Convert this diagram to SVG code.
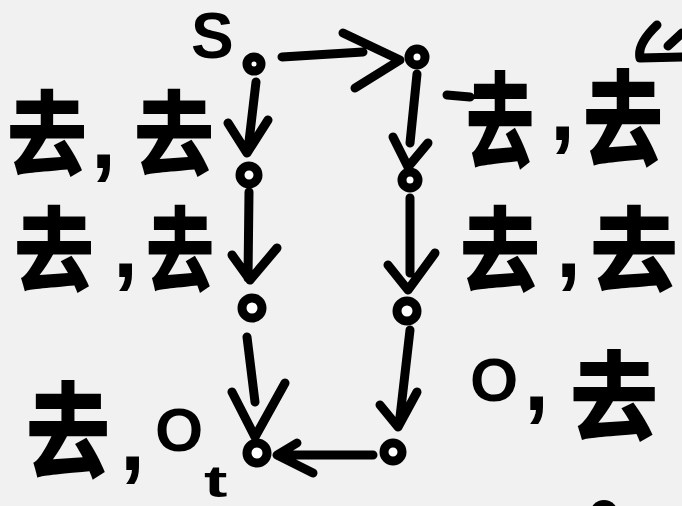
<svg xmlns="http://www.w3.org/2000/svg" width="682" height="506" viewBox="0 0 682 506">
<style>
.g{font-family:"Noto Sans CJK SC","Noto Sans CJK JP",sans-serif;font-size:80px;font-weight:900;fill:#000}
.c{font-family:"Liberation Sans",Arial,sans-serif;font-size:90px;font-weight:700;fill:#000}
.o{font-family:"Liberation Sans",Arial,sans-serif;font-size:62px;font-weight:700;fill:#000}
.l{font-family:"Liberation Sans",Arial,sans-serif;font-weight:700;fill:#000}
.n{fill:#fff;stroke:#000;stroke-width:9}
.e{fill:none;stroke:#000;stroke-width:9;stroke-linecap:round;stroke-linejoin:round}
</style>
<rect width="682" height="506" fill="#f1f1f1"/>
<g id="connectors">
  <path class="e" d="M282,57 L363,52 M343,33 L400,60 L355,88"/>
  <path class="e" d="M256,82 L248,150 M228,123 L247,153 L268,120"/>
  <path class="e" d="M249,192 L248,278 M232,255 L250,280 L277,248"/>
  <path class="e" d="M247,337 L255,402 M232,392 L255,437 L285,383"/>
  <path class="e" d="M417,74 L410,143 M393,137 L408,167 L428,143"/>
  <path class="e" d="M410,198 L410,273 M388,265 L408,290 L435,253"/>
  <path class="e" d="M410,330 L400,417 M380,405 L398,427 L417,392"/>
  <path class="e" d="M373,455 L280,455 M297,443 L277,455 L313,473"/>
</g>
<g id="node-s"><circle class="n" cx="254" cy="64" r="7"/></g>
<g id="node-a"><circle class="n" cx="417" cy="57" r="8"/></g>
<g id="node-b"><circle class="n" cx="249" cy="175" r="9"/></g>
<g id="node-c"><circle class="n" cx="410" cy="180" r="8"/></g>
<g id="node-d"><circle class="n" cx="252" cy="308" r="10"/></g>
<g id="node-e"><circle class="n" cx="407" cy="311" r="10"/></g>
<g id="node-t"><circle class="n" cx="257" cy="453" r="10"/></g>
<g id="node-f"><circle class="n" cx="393" cy="452" r="9"/></g>
<g id="label-s"><text class="l" font-size="64" x="191" y="58">S</text></g>
<g id="label-t"><text class="l" font-size="44" transform="translate(204,497) scale(1.6,1)">t</text></g>
<g id="label-l1">
  <text class="g" transform="translate(7,168) scale(1,1.15)">去</text>
  <text class="c" x="91" y="168">,</text>
  <text class="g" transform="translate(134,168) scale(1,1.15)">去</text>
</g>
<g id="label-l2">
  <text class="g" transform="translate(14,284) scale(1,1.15)">去</text>
  <text class="c" x="113" y="277">,</text>
  <text class="g" transform="translate(146,284) scale(0.85,1.15)">去</text>
</g>
<g id="label-l3">
  <text class="g" transform="translate(26,470) scale(1.05,1.3)">去</text>
  <text class="c" x="120" y="470">,</text>
  <text class="o" x="155" y="451">O</text>
</g>
<g id="label-r1">
  <path class="e" d="M447,95 L470,97"/>
  <text class="g" transform="translate(466,160) scale(0.85,1.3)">去</text>
  <text class="c" x="550" y="140">,</text>
  <text class="g" transform="translate(583,158) scale(1,1.3)">去</text>
</g>
<g id="label-r2">
  <text class="g" transform="translate(460,284) scale(1,1.15)">去</text>
  <text class="c" x="556" y="277">,</text>
  <text class="g" transform="translate(590,284) scale(1.1,1.15)">去</text>
</g>
<g id="label-r3">
  <text class="o" x="470" y="401">O</text>
  <text class="c" x="524" y="410">,</text>
  <text class="g" transform="translate(570,432) scale(1.1,1.2)">去</text>
</g>
<path class="e" d="M657,25 Q637,44 640,58 L682,57 M668,46 L682,33"/>
<circle cx="604" cy="514" r="14" fill="#000"/>
</svg>
